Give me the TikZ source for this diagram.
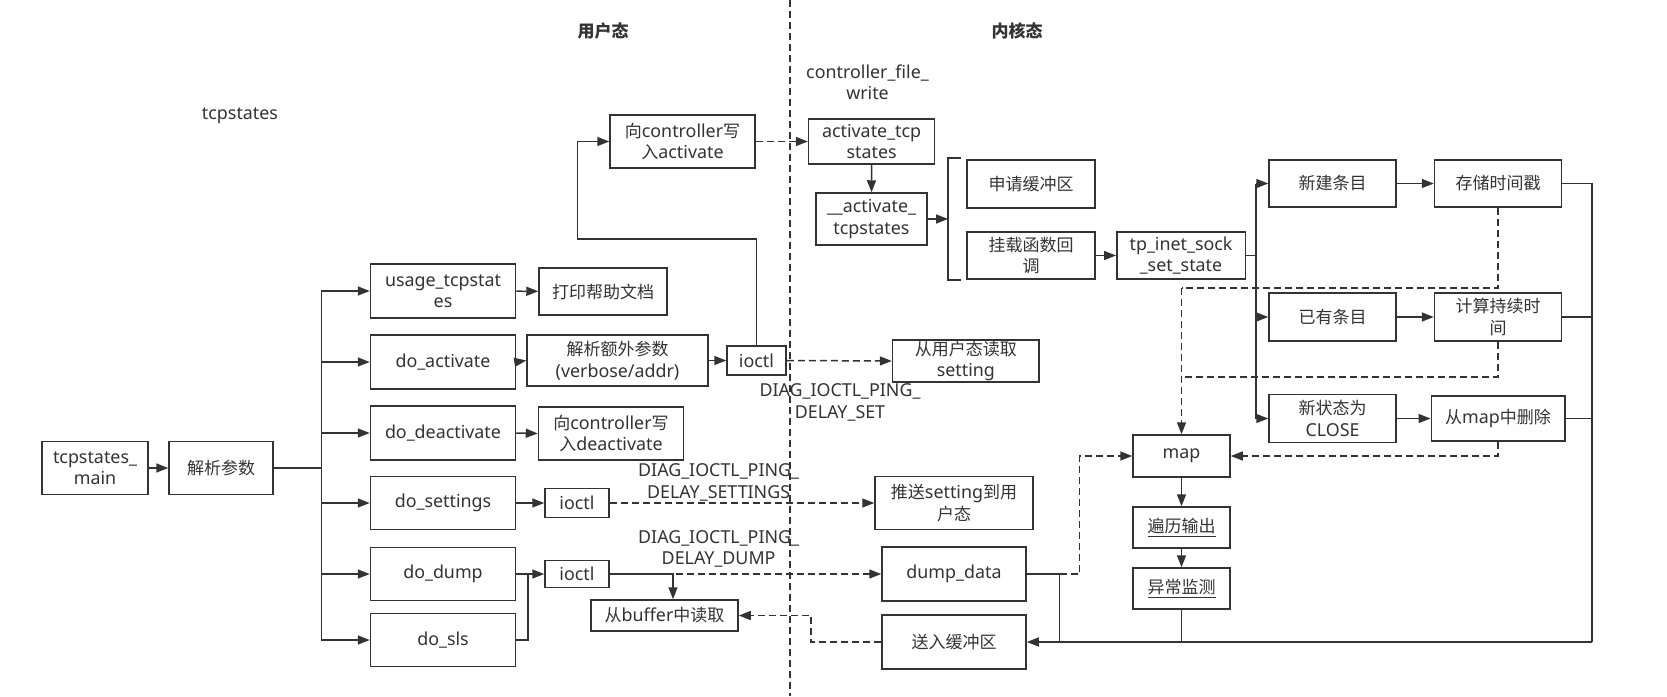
\documentclass[tikz,border=0pt]{standalone}
\usepackage{fontspec}
\setmainfont{Noto Sans}[Scale=1.05]
\newfontfamily\zhfont{Noto Sans CJK SC}
\newcommand{\zht}[1]{{\zhfont #1}}
\usetikzlibrary{arrows.meta}
\definecolor{lc}{HTML}{333333}
\tikzset{
 box/.style={draw=lc, line width=1.5pt, fill=white, align=center, inner sep=1pt, text=lc},
 lbl/.style={align=center, text=lc, inner sep=0pt},
 con/.style={draw=lc, line width=1.5pt},
 arr/.style={-{Triangle[length=12pt,width=9pt]}},
 dsh/.style={dash pattern=on 7pt off 4pt},
}
\begin{document}
\begin{tikzpicture}[x=1pt,y=-1pt, font=\fontsize{17}{21.5}\selectfont]
\useasboundingbox[fill=white] (0,0) rectangle (1667,696);
% separator
\draw[lc, line width=1.5pt, dsh] (790,0) -- (790,696);
% labels
\node[lbl] (title) at (240,116) {tcpstates};
\node[lbl] (user) at (603,31) {\bfseries\zhfont 用户态};
\node[lbl] (kern) at (1017,31) {\bfseries\zhfont 内核态};
\node[lbl] (cfw) at (867.5,82.5) {controller\_file\_\\write};
\node[lbl] (dset) at (840,402.5) {DIAG\_IOCTL\_PING\_\\DELAY\_SET};
\node[lbl] (dsets) at (718.6,482.5) {DIAG\_IOCTL\_PING\_\\DELAY\_SETTINGS};
\node[lbl] (ddump) at (718.6,549) {DIAG\_IOCTL\_PING\_\\DELAY\_DUMP};
% left side boxes
\node[box,minimum width=106pt,minimum height=53pt] (main) at (95,468) {tcpstates\_\\main};
\node[box,minimum width=104pt,minimum height=53pt] (parse) at (221,468) {\zht{解析参数}};
\node[box,minimum width=145pt,minimum height=54pt] (usage) at (443,291) {usage\_tcpstat\\es};
\node[box,minimum width=145pt,minimum height=54pt] (doact) at (443,362) {do\_activate};
\node[box,minimum width=145pt,minimum height=54pt] (dodeact) at (443,433) {do\_deactivate};
\node[box,minimum width=145pt,minimum height=53pt] (doset) at (443,503) {do\_settings};
\node[box,minimum width=145pt,minimum height=53pt] (dodump) at (443,574) {do\_dump};
\node[box,minimum width=145pt,minimum height=53pt] (dosls) at (443,640) {do\_sls};
\node[box,minimum width=128pt,minimum height=47pt] (print) at (603,291.5) {\zht{打印帮助文档}};
\node[box,minimum width=181pt,minimum height=51pt] (extra) at (617.5,360.5) {\zht{解析额外参数}\\(verbose/addr)};
\node[box,minimum width=59pt,minimum height=29pt] (ioctlA) at (756.5,360.5) {ioctl};
\node[box,minimum width=145pt,minimum height=53pt] (deactw) at (611,433.5) {\zht{向}controller\zht{写}\\\zht{入}deactivate};
\node[box,minimum width=64pt,minimum height=29pt] (ioctlS) at (577,503) {ioctl};
\node[box,minimum width=64pt,minimum height=27pt] (ioctlD) at (577,574) {ioctl};
\node[box,minimum width=147pt,minimum height=31pt] (readbuf) at (664.5,615.5) {\zht{从}buffer\zht{中读取}};
\node[box,minimum width=145pt,minimum height=53pt] (actw) at (682.5,141.5) {\zht{向}controller\zht{写}\\\zht{入}activate};
% kernel side boxes
\node[box,minimum width=126pt,minimum height=45pt] (acttcp) at (871.6,141.5) {activate\_tcp\\states};
\node[box,minimum width=111pt,minimum height=52pt] (act2) at (871.5,219) {\_\_activate\_\\tcpstates};
\node[box,minimum width=128pt,minimum height=48pt] (buf) at (1031,184) {\zht{申请缓冲区}};
\node[box,minimum width=128pt,minimum height=47pt] (hook) at (1031,255.5) {\zht{挂载函数回}\\\zht{调}};
\node[box,minimum width=128.5pt,minimum height=47pt] (tpinet) at (1181,255.5) {tp\_inet\_sock\\\_set\_state};
\node[box,minimum width=127pt,minimum height=47pt] (newent) at (1332.5,183.5) {\zht{新建条目}};
\node[box,minimum width=127pt,minimum height=47pt] (stamp) at (1498,183.5) {\zht{存储时间戳}};
\node[box,minimum width=127pt,minimum height=48pt] (exist) at (1332.5,317) {\zht{已有条目}};
\node[box,minimum width=127pt,minimum height=48pt] (dur) at (1498,317) {\zht{计算持续时}\\\zht{间}};
\node[box,minimum width=127pt,minimum height=48pt] (close) at (1332.5,418.5) {\zht{新状态为}\\CLOSE};
\node[box,minimum width=133.5pt,minimum height=45pt] (del) at (1498,418.5) {\zht{从}map\zht{中删除}};
\node[box,minimum width=97pt,minimum height=42pt] (map) at (1181.5,456) {map};
\node[box,minimum width=97pt,minimum height=41pt] (trav) at (1181.5,527.5) {\underline{\zht{遍历输出}}};
\node[box,minimum width=97pt,minimum height=41pt] (anom) at (1181.5,588.5) {\underline{\zht{异常监测}}};
\node[box,minimum width=146.5pt,minimum height=40pt] (readset) at (965.8,361) {\zht{从用户态读取}\\setting};
\node[box,minimum width=158pt,minimum height=53pt] (push) at (954,503) {\zht{推送}setting\zht{到用}\\\zht{户态}};
\node[box,minimum width=144pt,minimum height=54pt] (dump) at (954,574) {dump\_data};
\node[box,minimum width=144pt,minimum height=54pt] (sendbuf) at (954,642) {\zht{送入缓冲区}};
% coordinates
\coordinate (bt) at (321.4,291);
\coordinate (bb) at (321.4,640);
\coordinate (dj1) at (528,574);
\coordinate (k1) at (577.5,239);
\coordinate (brT) at (948,158);
\coordinate (brB) at (948,280);
\coordinate (b2t) at (1256,183.5);
\coordinate (b2b) at (1256,418.5);
\coordinate (r1) at (1592,642);
\coordinate (dj) at (1059.5,574);
\coordinate (dk) at (1079.5,574);
\coordinate (m1) at (1181.5,288);
\coordinate (m2) at (1181.5,377);
\coordinate (sb) at (811,615.5);
% left connectors
\draw[con,arr] (main) -- (parse);
\draw[con] (parse.east) -- (parse.east -| bt);
\draw[con] (bt) -- (bb);
\draw[con,arr] (bt) -- (usage.west);
\draw[con,arr] (doact.west -| bt) -- (doact.west);
\draw[con,arr] (dodeact.west -| bt) -- (dodeact.west);
\draw[con,arr] (doset.west -| bt) -- (doset.west);
\draw[con,arr] (dodump.west -| bt) -- (dodump.west);
\draw[con,arr] (bb) -- (dosls.west);
\draw[con,arr] (usage) -- (print);
\draw[con,arr] (doact.east) -- (extra.west);
\draw[con,arr] (extra) -- (ioctlA);
\draw[con,arr] (dodeact.east) -- (deactw.west);
\draw[con,arr] (doset) -- (ioctlS);
\draw[con,arr] (dodump.east) -- (dj1) -- (ioctlD.west);
\draw[con] (dosls.east) -| (dj1);
\draw[con,arr] (ioctlA.north) |- (k1) |- (actw.west);
\draw[con,dsh,arr] (actw) -- (acttcp);
\draw[con,dsh,arr] (ioctlA.east) -- (readset.west);
\draw[con,dsh,arr] (ioctlS.east) -- (push.west);
\draw[con,dsh,arr] (ioctlD.east) -- (dump.west);
\draw[con,arr] (ioctlD.east) -| ([xshift=8.5pt]readbuf.north);
\draw[con,dsh,arr] (sendbuf.west) -| (sb) -- (readbuf.east);
% kernel connectors
\draw[con,arr] (acttcp) -- (act2);
\draw[con] ([xshift=13pt]brT) -- (brT) -- (brB) -- ([xshift=13pt]brB);
\draw[con,arr] (act2.east) -- (act2.east -| brT);
\draw[con,arr] (hook) -- (tpinet);
\draw[con] (tpinet.east) -- (tpinet.east -| b2t);
\draw[con] (b2t) -- (b2b);
\draw[con,arr] (b2t) -- (newent.west);
\draw[con,arr] (exist.west -| b2t) -- (exist.west);
\draw[con,arr] (b2b) -- (close.west);
\draw[con,arr] (newent) -- (stamp);
\draw[con,arr] (exist) -- (dur);
\draw[con,arr] (close) -- (del);
\draw[con] (stamp.east) -- (stamp.east -| r1) -- (r1);
\draw[con] (dur.east) -- (dur.east -| r1);
\draw[con] (del.east) -- (del.east -| r1);
\draw[con,arr] (r1) -- (sendbuf.east);
\draw[con] (anom.south) -- (anom.south |- r1);
\draw[con] (dump.east) -- (dj) -- (dj |- r1);
\draw[con,dsh,arr] (dj) -- (dk) |- (map.west);
\draw[con,dsh] (stamp.south) |- (m1);
\draw[con,dsh] (dur.south) |- (m2);
\draw[con,dsh,arr] (m1) -- (map.north);
\draw[con,dsh,arr] (del.south) |- (map.east);
\draw[con,arr] (map) -- (trav);
\draw[con,arr] (trav) -- (anom);
\end{tikzpicture}
\end{document}
